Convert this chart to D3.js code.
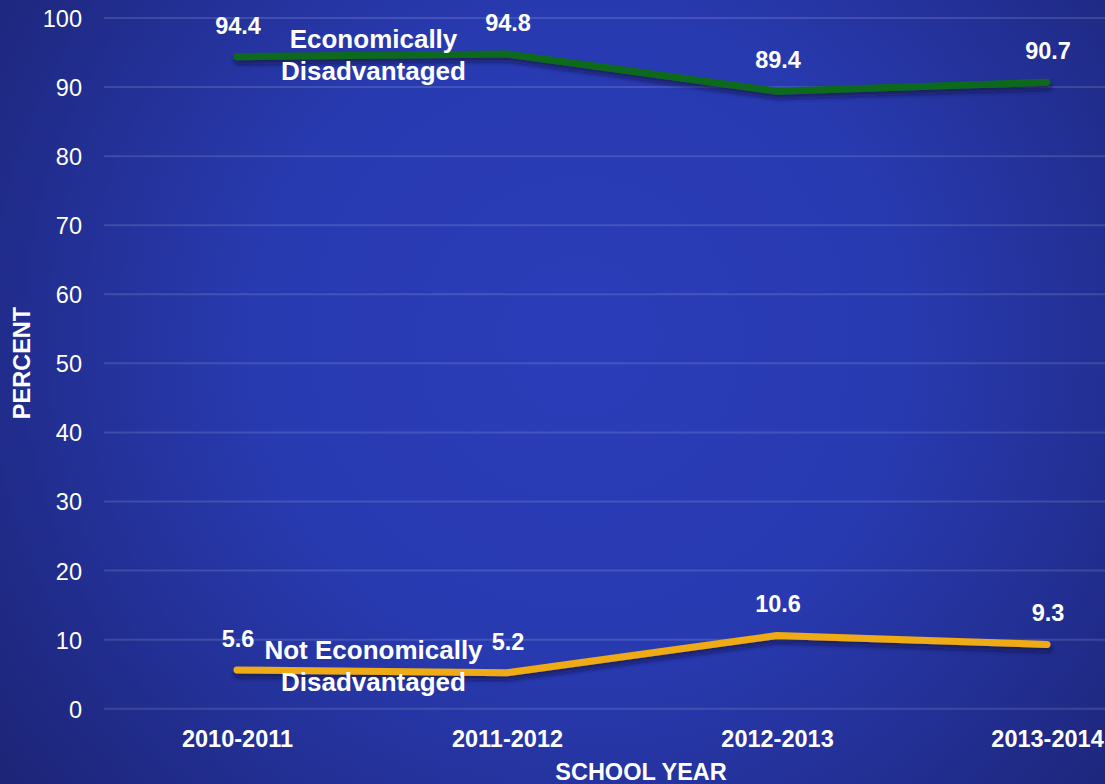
<!DOCTYPE html>
<html>
<head>
<meta charset="utf-8">
<script src="https://cdn.jsdelivr.net/npm/d3@7"></script>
<style>
  html, body { margin: 0; padding: 0; background: #1f2883; }
  svg { display: block; font-family: "Liberation Sans", Arial, sans-serif; }
</style>
</head>
<body>
<svg id="chart" width="1105" height="784"></svg>
<script>
// School years on the x axis
const schoolYears = ["2010-2011", "2011-2012", "2012-2013", "2013-2014"];
// Percent of students in each group
const disadvantaged = [94.4, 94.8, 89.4, 90.7];
const notDisadvantaged = [5.6, 5.2, 10.6, 9.3];
// Y axis ticks
const yTicks = [0, 10, 20, 30, 40, 50, 60, 70, 80, 90, 100];

const W = 1105, H = 784;
const svg = d3.select("#chart");

// Background: soft radial blue glow
const defs = svg.append("defs");
const grad = defs.append("radialGradient")
  .attr("id", "bg").attr("gradientUnits", "userSpaceOnUse")
  .attr("cx", 580).attr("cy", 340).attr("r", 720);
grad.append("stop").attr("offset", "0%").attr("stop-color", "#2b3cb9");
grad.append("stop").attr("offset", "45%").attr("stop-color", "#283ab0");
grad.append("stop").attr("offset", "100%").attr("stop-color", "#1d2578");
svg.append("rect").attr("width", W).attr("height", H).attr("fill", "url(#bg)");

// Drop shadow for the series lines
const shadow = defs.append("filter").attr("id", "shadow")
  .attr("x", "-5%").attr("y", "-50%").attr("width", "110%").attr("height", "200%");
shadow.append("feDropShadow")
  .attr("dx", 1).attr("dy", 4).attr("stdDeviation", 2.5)
  .attr("flood-color", "#0a0f3a").attr("flood-opacity", 0.7);

const x = d3.scalePoint().domain(schoolYears).range([237, 1047]);
const y = d3.scaleLinear().domain([0, 100]).range([708.7, 18]);

// Gridlines
svg.append("g").selectAll("line").data(yTicks).join("line")
  .attr("x1", 104).attr("x2", W)
  .attr("y1", d => y(d)).attr("y2", d => y(d))
  .attr("stroke", "rgba(255,255,255,0.13)").attr("stroke-width", 2);

// Y axis tick labels
const yAxis = d3.axisLeft(y).tickValues(yTicks).tickSize(0).tickPadding(0);
const gy = svg.append("g").attr("transform", "translate(82,0)").call(yAxis);
gy.select(".domain").remove();
gy.selectAll("text")
  .attr("fill", "#ffffff").attr("font-size", "23.5px")
  .attr("font-family", "Liberation Sans, Arial, sans-serif")
  .attr("dy", "0.36em");

// X axis category labels
const xAxis = d3.axisBottom(x).tickSize(0).tickPadding(0);
const gx = svg.append("g").attr("transform", "translate(0,730)").call(xAxis);
gx.select(".domain").remove();
gx.selectAll("text")
  .attr("fill", "#ffffff").attr("font-size", "23.5px").attr("font-weight", "bold")
  .attr("font-family", "Liberation Sans, Arial, sans-serif")
  .attr("dy", "0.71em");

// Axis titles
svg.append("text")
  .attr("x", 641).attr("y", 780)
  .attr("text-anchor", "middle").attr("fill", "#fff")
  .attr("font-size", "23.5px").attr("font-weight", "bold")
  .text("SCHOOL YEAR");
svg.append("text")
  .attr("transform", "translate(30,363) rotate(-90)")
  .attr("text-anchor", "middle").attr("fill", "#fff")
  .attr("font-size", "23.5px").attr("font-weight", "bold")
  .text("PERCENT");

// Series lines
const line = d3.line().x((d, i) => x(schoolYears[i])).y(d => y(d));
const series = [
  { values: disadvantaged, color: "#0f6a1e" },
  { values: notDisadvantaged, color: "#eeab15" }
];
series.forEach(s => {
  svg.append("path")
    .attr("d", line(s.values))
    .attr("fill", "none")
    .attr("stroke", s.color).attr("stroke-width", 7)
    .attr("stroke-linecap", "round").attr("stroke-linejoin", "round")
    .attr("filter", "url(#shadow)");
});

// Data value labels above each point
series.forEach(s => {
  svg.append("g").selectAll("text").data(s.values).join("text")
    .attr("x", (d, i) => x(schoolYears[i]) + 1)
    .attr("y", d => y(d) - 23)
    .attr("text-anchor", "middle").attr("fill", "#fff")
    .attr("font-size", "23.5px").attr("font-weight", "bold")
    .text(d => d.toFixed(1));
});

// Series name annotations
function annotate(lines, cx, baseline) {
  const t = svg.append("text")
    .attr("text-anchor", "middle").attr("fill", "#fff")
    .attr("font-size", "26px").attr("font-weight", "bold");
  lines.forEach((ln, i) => {
    t.append("tspan").attr("x", cx).attr("y", baseline + i * 32).text(ln);
  });
}
annotate(["Economically", "Disadvantaged"], 373.5, 48);
annotate(["Not Economically", "Disadvantaged"], 373.5, 659);
</script>
</body>
</html>
